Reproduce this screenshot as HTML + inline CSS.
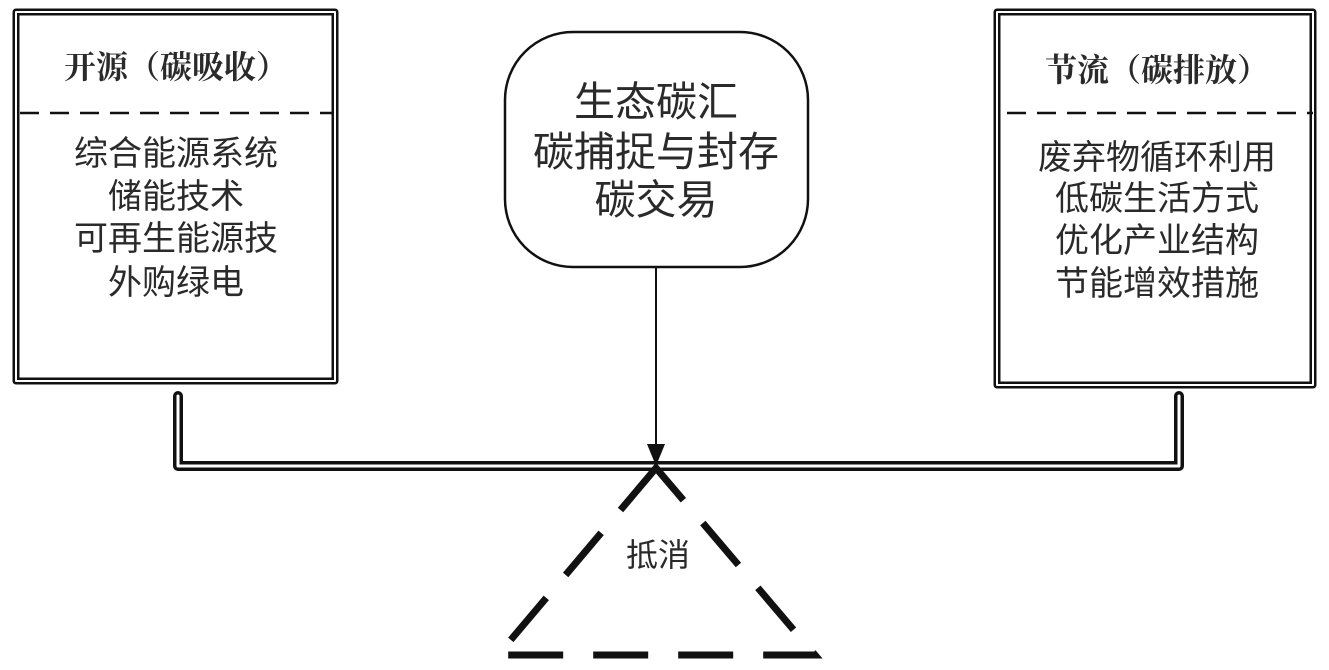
<!DOCTYPE html>
<html><head><meta charset="utf-8"><style>
body{margin:0;background:#fff;}
svg{display:block}
text{font-family:"Liberation Sans","Noto Sans CJK SC",sans-serif;fill:#2a2a2a;text-anchor:middle;}
text.t{font-family:"Liberation Serif","Noto Serif CJK SC",serif;}
</style></head><body>
<svg width="1329" height="670" viewBox="0 0 1329 670" xmlns="http://www.w3.org/2000/svg">
<g fill="none" stroke-linejoin="round" stroke-linecap="round">
<rect x="16" y="12" width="319" height="369" stroke="#111" stroke-width="7"/>
<rect x="16" y="12" width="319" height="369" stroke="#fff" stroke-width="2"/>
<rect x="997" y="12" width="316" height="373" stroke="#111" stroke-width="7"/>
<rect x="997" y="12" width="316" height="373" stroke="#fff" stroke-width="2"/>
<path d="M178 396 V466 H1179 V396" stroke="#111" stroke-width="10"/>
<path d="M178 396 V466 H1179 V396" stroke="#fff" stroke-width="3"/>
</g>
<line x1="20" y1="113" x2="332" y2="113" stroke="#111" stroke-width="2.5" stroke-dasharray="19 11"/>
<line x1="1007" y1="113" x2="1313" y2="113" stroke="#111" stroke-width="2.5" stroke-dasharray="19 11"/>
<rect x="505" y="32" width="303" height="235" rx="68" ry="68" fill="#fff" stroke="#111" stroke-width="2.5"/>
<line x1="656" y1="267" x2="656" y2="448" stroke="#111" stroke-width="2"/>
<path d="M647 444 L665 444 L656 466 Z" fill="#111"/>
<path d="M656 468 L498 655 L815 655 Z" fill="none" stroke="#111" stroke-width="7" stroke-dasharray="55 30"/>
<text class="t" x="176" y="78" font-size="32" font-weight="bold" fill="#222">开源（碳吸收）</text>
<text x="176" y="165" font-size="34">综合能源系统</text>
<text x="176" y="208" font-size="34">储能技术</text>
<text x="176" y="250" font-size="34">可再生能源技</text>
<text x="176" y="294" font-size="34">外购绿电</text>
<text class="t" x="1157" y="81" font-size="32" font-weight="bold" fill="#222">节流（碳排放）</text>
<text x="1157" y="169" font-size="34">废弃物循环利用</text>
<text x="1157" y="210" font-size="34">低碳生活方式</text>
<text x="1157" y="252" font-size="34">优化产业结构</text>
<text x="1157" y="295" font-size="34">节能增效措施</text>
<text x="656" y="116" font-size="41">生态碳汇</text>
<text x="656" y="166" font-size="41">碳捕捉与封存</text>
<text x="656" y="214" font-size="41">碳交易</text>
<text x="658" y="566" font-size="32">抵消</text>
</svg>
</body></html>
